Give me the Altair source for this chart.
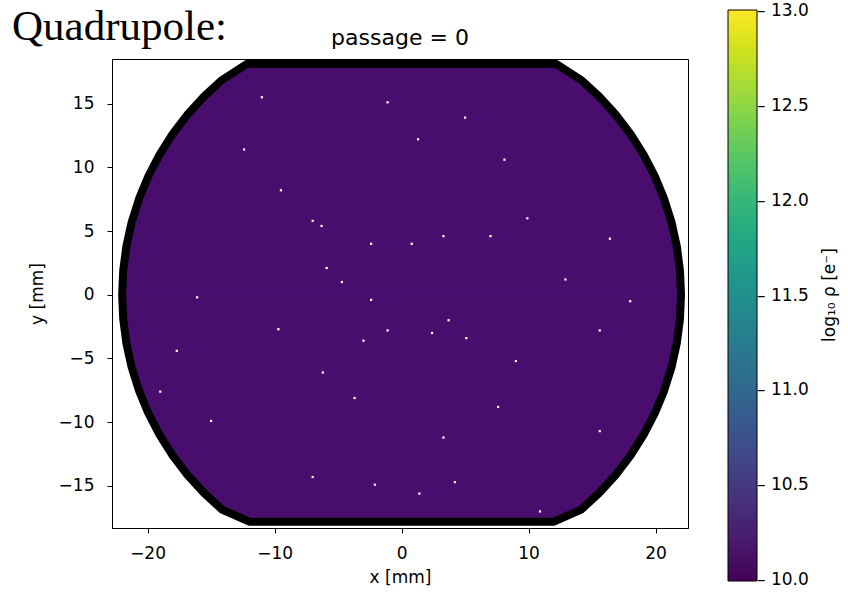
import altair as alt
import pandas as pd

# ---------------- data ----------------
# chamber outline (upper half right->left, lower half left->right), mm
upper_x = [22.0, 21.916, 21.666, 21.251, 20.673, 19.939, 19.053, 18.021, 16.853, 15.556, 14.141, 12.2,
           -12.2, -14.141, -15.556, -16.853, -18.021, -19.053, -19.939, -20.673, -21.251, -21.666, -21.916, -22.0]
upper_y = [0.0, 1.917, 3.82, 5.694, 7.524, 9.298, 11.0, 12.619, 14.141, 15.556, 16.853, 18.1,
           18.1, 16.853, 15.556, 14.141, 12.619, 11.0, 9.298, 7.524, 5.694, 3.82, 1.917, 0.0]
lower_x = [-22.0, -21.916, -21.666, -21.251, -20.673, -19.939, -19.053, -18.021, -16.853, -15.556, -14.141, -12.0,
           12.0, 14.141, 15.556, 16.853, 18.021, 19.053, 19.939, 20.673, 21.251, 21.666, 21.916, 22.0]
lower_y = [0.0, -1.917, -3.82, -5.694, -7.524, -9.298, -11.0, -12.619, -14.141, -15.556, -16.853, -17.8,
           -17.8, -16.853, -15.556, -14.141, -12.619, -11.0, -9.298, -7.524, -5.694, -3.82, -1.917, 0.0]

# empty (white) cells, mm
speck_x = [1.3, -6.3, -4.7, -16.1, -9.7, -6.2, -3.7, -12.4, -14.2, 9.9, 16.4, 12.9, 15.6, 3.3,
           -7.0, -2.1, 1.4, 10.9, -11.0, -9.5, 9.0, 15.6, 7.6, 4.2, -15.0, -17.7, -1.1, 5.0,
           18.0, 8.1, -19.0, -7.0, -2.4, 0.8, 3.3, 7.0, 3.7, -1.1, -3.0, 5.1, 2.4, -5.9, -2.4]
speck_y = [12.2, 5.4, 1.0, -0.2, -2.7, -6.1, -8.1, 11.4, 16.5, 6.0, 4.4, 1.2, -10.7, -11.2,
           -14.3, -14.9, -15.6, -17.0, 15.5, 8.2, -5.2, -2.8, -8.8, -14.7, -9.9, -4.4, 15.1, 13.9,
           -0.5, 10.6, -7.6, 5.8, 4.0, 4.0, 4.6, 4.6, -2.0, -2.8, -3.6, -3.4, -3.0, 2.1, -0.4]

cbar_domain = [9.995, 13.005]
cbar_values = [10.0, 10.5, 11.0, 11.5, 12.0, 12.5, 13.0]
x_ticks = [-20, -10, 0, 10, 20]
y_ticks = [-15, -10, -5, 0, 5, 10, 15]
x_domain = [-22.8, 22.55]
y_domain = [-18.3, 18.5]

PURPLE = "#490d6e"
FONT = "DejaVu Sans"

# ---------------- chart ----------------
upper = pd.DataFrame({"x": upper_x, "y": upper_y})
lower = pd.DataFrame({"x": lower_x, "y": lower_y})
outline = pd.DataFrame({"x": upper_x + lower_x, "y": upper_y + lower_y,
                        "i": list(range(len(upper_x) + len(lower_x)))})
specks = pd.DataFrame({"x": speck_x, "y": speck_y})
cbar = pd.DataFrame({"rho": cbar_values})

xs = alt.Scale(domain=x_domain, nice=False, zero=False)
ys = alt.Scale(domain=y_domain, nice=False, zero=False)
xax = alt.Axis(values=x_ticks, title="x [mm]", labelPadding=12, titlePadding=8)
yax = alt.Axis(values=y_ticks, title="y [mm]", labelPadding=13, titlePadding=12)
X = alt.X("x:Q", scale=xs, axis=xax)
Y = alt.Y("y:Q", scale=ys, axis=yax)

fill_up = alt.Chart(upper).mark_area(color=PURPLE).encode(x=X, y=Y, y2=alt.datum(-0.5))
fill_lo = alt.Chart(lower).mark_area(color=PURPLE).encode(x=X, y=Y, y2=alt.datum(0.5))
dots = alt.Chart(specks).mark_square(color="white", size=5, opacity=1).encode(x=X, y=Y)
border = alt.Chart(outline).mark_line(
    color="black", strokeWidth=8, strokeJoin="round", strokeCap="round", clip=True
).encode(x=X, y=Y, order="i:Q")

legend_layer = alt.Chart(cbar).mark_point(opacity=0).encode(
    color=alt.Color(
        "rho:Q",
        scale=alt.Scale(scheme="viridis", domain=cbar_domain, nice=False, zero=False),
        title="",
        legend=alt.Legend(
            orient="none", legendX=616, legendY=-49, direction="vertical",
            gradientLength=571, gradientThickness=29,
            gradientStrokeColor="black", gradientStrokeWidth=1,
            values=cbar_values, format=".1f",
            labelExpr="'– ' + datum.label",
            labelFontSize=17, labelFont=FONT, labelColor="black",
            labelOffset=0, labelBaseline="middle", labelOverlap=False,
        ),
    )
)

cbar_title = alt.Chart(pd.DataFrame({"t": ["log₁₀ ρ [e⁻]"]})).mark_text(
    angle=270, font=FONT, fontSize=17, color="black", align="center", baseline="middle"
).encode(text="t:N", x=alt.value(718), y=alt.value(236))

panel_title = alt.Chart(pd.DataFrame({"t": ["passage = 0"]})).mark_text(
    font=FONT, fontSize=22, color="black", align="center", baseline="alphabetic"
).encode(text="t:N", x=alt.value(288), y=alt.value(-14))

big_label = alt.Chart(pd.DataFrame({"t": ["Quadrupole:"]})).mark_text(
    font="Liberation Serif", fontSize=43, color="black", align="left", baseline="alphabetic"
).encode(text="t:N", x=alt.value(-100), y=alt.value(-19))

chart = alt.layer(
    fill_up, fill_lo, dots, border, legend_layer, cbar_title, panel_title, big_label
).properties(
    width=576, height=469,
    autosize=alt.AutoSizeParams(type="none"),
    padding={"left": 112, "top": 59, "right": 160, "bottom": 64},
).configure(
    font=FONT
).configure_view(
    stroke="black", strokeWidth=1
).configure_axis(
    grid=False, labelFont=FONT, titleFont=FONT, labelFontSize=17, titleFontSize=17,
    titleFontWeight="normal", labelColor="black", titleColor="black",
    tickColor="black", domainColor="black", tickSize=5, domainWidth=1, tickWidth=1,
)

chart.save("out.html", embed_options={"renderer": "svg", "actions": False})
